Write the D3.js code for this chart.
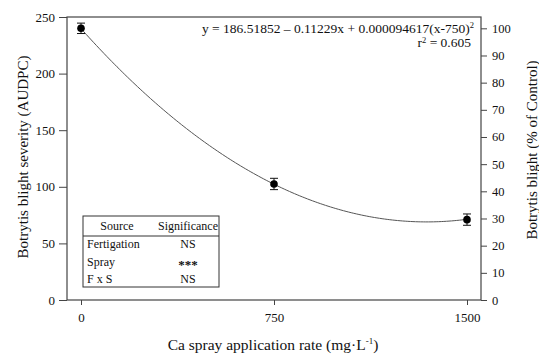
<!DOCTYPE html>
<html>
<head>
<meta charset="utf-8">
<script src="https://cdn.jsdelivr.net/npm/d3@7"></script>
<style>
  body { margin: 0; background: #fff; }
  svg text { font-family: "Liberation Serif", "Times New Roman", Times, serif; fill: #111; }
</style>
</head>
<body>
<svg id="chart" width="539" height="354"></svg>
<script>
// data
var rates = [0, 750, 1500]
var severity = [240, 102.5, 71]
var stdErr = [4.6, 5, 5]
var xTicks = [0, 750, 1500]
var leftTicks = [0, 50, 100, 150, 200, 250]
var rightTicks = [0, 10, 20, 30, 40, 50, 60, 70, 80, 90, 100]
// fitted curve printed on the chart: a + b*x + c*(x - d)^2
var fitCoef = [186.51852, -0.11229, 0.000094617, 750]
var anovaSource = ["Fertigation", "Spray", "F x S"]
var anovaSig = ["NS", "***", "NS"]

var serif = '"Liberation Serif", "Times New Roman", Times, serif'
var dims = { left: 67, right: 481, top: 17, bottom: 300 }

var svg = d3.select("#chart")

var xScale = d3.scaleLinear()
               .domain([0, 1500])
               .range([81, 467])

var yScale = d3.scaleLinear()
               .domain([0, 250])
               .range([dims.bottom, dims.top])

// right axis: % of control (control = 240 AUDPC)
var yRight = d3.scaleLinear()
               .domain([0, 100])
               .range([dims.bottom, yScale(240)])

// frame
svg.append("rect")
   .attr("x", dims.left)
   .attr("y", dims.top)
   .attr("width", dims.right - dims.left)
   .attr("height", dims.bottom - dims.top)
   .attr("fill", "none")
   .attr("stroke", "#444")
   .attr("stroke-width", 1.2)

function styleAxis(size) {
    return function(g) {
        g.attr("font-family", null)
        g.select(".domain").remove()
        g.selectAll("line").attr("stroke", "#444")
        g.selectAll("text").style("font-size", size).style("font-family", serif).attr("fill", "#111")
    }
}

svg.append("g")
   .attr("transform", `translate(0, ${dims.bottom})`)
   .call(d3.axisBottom(xScale).tickValues(xTicks).tickFormat(d3.format("d")).tickSize(5).tickPadding(8))
   .call(styleAxis("13px"))

svg.append("g")
   .attr("transform", `translate(${dims.left}, 0)`)
   .call(d3.axisLeft(yScale).tickValues(leftTicks).tickSize(8).tickPadding(4))
   .call(styleAxis("13px"))

svg.append("g")
   .attr("transform", `translate(${dims.right}, 0)`)
   .call(d3.axisRight(yRight).tickValues(rightTicks).tickSize(6).tickPadding(5))
   .call(styleAxis("12.5px"))

// fitted curve
var fit = x => fitCoef[0] + fitCoef[1] * x + fitCoef[2] * Math.pow(x - fitCoef[3], 2)
var curveX = d3.range(0, 1501, 10)
svg.append("path")
   .datum(curveX)
   .attr("fill", "none")
   .attr("stroke", "#555")
   .attr("stroke-width", 1)
   .attr("d", d3.line().x(d => xScale(d)).y(d => yScale(fit(d))))

// error bars + points
var pts = rates.map((r, i) => ({ x: r, y: severity[i], se: stdErr[i] }))
var bars = svg.append("g").attr("stroke", "#111").attr("stroke-width", 1)
bars.selectAll(".v").data(pts).enter().append("line")
    .attr("x1", d => xScale(d.x)).attr("x2", d => xScale(d.x))
    .attr("y1", d => yScale(d.y - d.se)).attr("y2", d => yScale(d.y + d.se))
bars.selectAll(".top").data(pts).enter().append("line")
    .attr("x1", d => xScale(d.x) - 4).attr("x2", d => xScale(d.x) + 4)
    .attr("y1", d => yScale(d.y + d.se)).attr("y2", d => yScale(d.y + d.se))
bars.selectAll(".bot").data(pts).enter().append("line")
    .attr("x1", d => xScale(d.x) - 4).attr("x2", d => xScale(d.x) + 4)
    .attr("y1", d => yScale(d.y - d.se)).attr("y2", d => yScale(d.y - d.se))

svg.append("g").selectAll("circle")
   .data(pts).enter().append("circle")
   .attr("cx", d => xScale(d.x))
   .attr("cy", d => yScale(d.y))
   .attr("r", 3.8)
   .attr("fill", "#000")

// equation
var eq = svg.append("text")
            .attr("x", 474).attr("y", 33)
            .attr("text-anchor", "end")
            .style("font-size", "13.5px")
eq.append("tspan").text("y = 186.51852 \u2013 0.11229x + 0.000094617(x-750)")
eq.append("tspan").attr("dy", -5).style("font-size", "8.5px").text("2")

var r2 = svg.append("text")
            .attr("x", 471).attr("y", 47)
            .attr("text-anchor", "end")
            .style("font-size", "13.5px")
r2.append("tspan").text("r")
r2.append("tspan").attr("dy", -4).style("font-size", "8.5px").text("2")
r2.append("tspan").attr("dy", 4).text(" = 0.605")

// anova table
var tbl = svg.append("g")
tbl.append("rect")
   .attr("x", 83).attr("y", 216)
   .attr("width", 136).attr("height", 71)
   .attr("fill", "#fff").attr("stroke", "#333").attr("stroke-width", 1)
tbl.append("line")
   .attr("x1", 83).attr("x2", 219).attr("y1", 236).attr("y2", 236)
   .attr("stroke", "#333")
tbl.append("text").attr("x", 117).attr("y", 230).attr("text-anchor", "middle")
   .style("font-size", "12px").text("Source")
tbl.append("text").attr("x", 188).attr("y", 230).attr("text-anchor", "middle")
   .style("font-size", "12px").text("Significance")
tbl.selectAll(".src").data(anovaSource).enter().append("text")
   .attr("x", 87).attr("y", (d, i) => 248 + i * 17.5)
   .style("font-size", "12px").text(d => d)
tbl.selectAll(".sig").data(anovaSig).enter().append("text")
   .attr("x", 188).attr("y", (d, i) => 248 + i * 17.5 + (d === "***" ? 3 : 0))
   .attr("text-anchor", "middle")
   .style("font-size", d => d === "***" ? "13px" : "12px")
   .style("font-weight", d => d === "***" ? "bold" : "normal")
   .text(d => d)

// axis titles
var xTitle = svg.append("text")
                .attr("x", 273).attr("y", 350)
                .attr("text-anchor", "middle")
                .style("font-size", "15.5px")
xTitle.append("tspan").text("Ca spray application rate (mg\u00b7L")
xTitle.append("tspan").attr("dy", -6).style("font-size", "9px").text("-1")
xTitle.append("tspan").attr("dy", 6).text(")")

svg.append("text")
   .attr("transform", "rotate(-90)")
   .attr("x", -157).attr("y", 28)
   .attr("text-anchor", "middle")
   .style("font-size", "15px")
   .text("Botrytis blight severity (AUDPC)")

svg.append("text")
   .attr("transform", "rotate(-90)")
   .attr("x", -150).attr("y", 537)
   .attr("text-anchor", "middle")
   .style("font-size", "15px")
   .text("Botrytis blight (% of Control)")
</script>
</body>
</html>
